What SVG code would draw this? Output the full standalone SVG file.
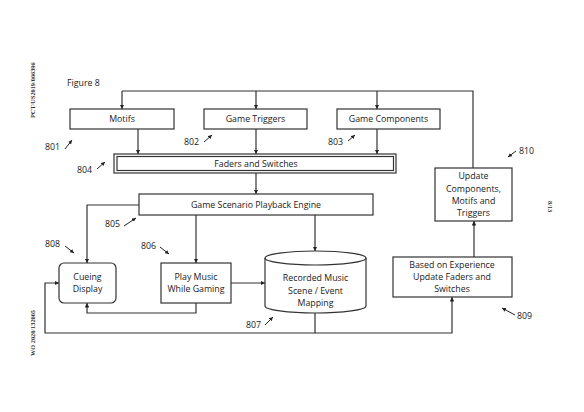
<svg xmlns="http://www.w3.org/2000/svg" width="584" height="412" viewBox="0 0 584 412">
<defs>
<marker id="ah" viewBox="0 0 10 10" refX="10" refY="5" markerWidth="4.5" markerHeight="4.5" markerUnits="userSpaceOnUse" orient="auto">
<path d="M0,0 L10,5 L0,10 z" fill="#222"/>
</marker>
<marker id="lh" viewBox="0 0 10 10" refX="10" refY="5" markerWidth="4" markerHeight="4" markerUnits="userSpaceOnUse" orient="auto">
<path d="M0,0 L10,5 L0,10 z" fill="#222"/>
</marker>
<style>
text{font-family:"Open Sans","Noto Sans","Liberation Sans",sans-serif;font-size:8.8px;fill:#1a1a1a}
.c{text-anchor:middle}
.box{fill:#fff;stroke:#333;stroke-width:1.2}
.con{fill:none;stroke:#333;stroke-width:1.2;marker-end:url(#ah)}
.ln{fill:none;stroke:#333;stroke-width:1.2}
.lab{fill:none;stroke:#222;stroke-width:1;marker-end:url(#lh)}
.mar{font-family:"Liberation Serif","DejaVu Serif",serif;font-size:6.3px;font-weight:bold;fill:#333}
</style>
</defs>
<rect width="584" height="412" fill="#fff"/>
<text class="mar" transform="translate(35,118) rotate(-90)">PCT/US2019/066396</text>
<text class="mar" transform="translate(35,356) rotate(-90)">WO 2020/132005</text>
<text class="mar" transform="translate(548,201) rotate(90)">8/13</text>
<text x="67" y="86">Figure 8</text>

<g id="connectors">
<path class="ln" d="M473,168 V91 H122"/>
<path class="con" d="M122,91 V109"/>
<path class="con" d="M256,91 V109"/>
<path class="con" d="M377,91 V109"/>
<path class="con" d="M138,129 V154"/>
<path class="con" d="M256,129 V154"/>
<path class="con" d="M377,129 V154"/>
<path class="con" d="M256,173 V194"/>
<path class="con" d="M139,205 H87 V263"/>
<path class="con" d="M196,215 V263"/>
<path class="con" d="M315,215 V251"/>
<path class="con" d="M231,283 H265"/>
<path class="con" d="M196,303 V313 H87 V303"/>
<path class="con" d="M315,313 V333 H45 V283 H59"/>
<path class="con" d="M315,333 H452 V297"/>
<path class="con" d="M474,257 V221"/>
</g>

<g id="labels">
<text x="45" y="150">801</text><path class="lab" d="M65,149 L72,140"/>
<text x="184" y="145">802</text><path class="lab" d="M204,142 L212,135"/>
<text x="328" y="145">803</text><path class="lab" d="M348,141 L355,135"/>
<text x="77" y="173">804</text><path class="lab" d="M97,169 L105,162"/>
<text x="105" y="227">805</text><path class="lab" d="M124,226 L136,218"/>
<text x="45" y="247">808</text><path class="lab" d="M65,246 L74,253"/>
<text x="141" y="249">806</text><path class="lab" d="M160,247 L169,254"/>
<text x="246" y="328">807</text><path class="lab" d="M265,325 L273,317"/>
<text x="517" y="319">809</text><path class="lab" d="M515,315 L502,308"/>
<text x="519" y="154">810</text><path class="lab" d="M516,151 L508,157"/>
</g>

<g id="motifs"><rect class="box" x="70" y="109" width="104" height="20"/><text class="c" x="122" y="122.3">Motifs</text></g>
<g id="game-triggers"><rect class="box" x="204" y="109" width="103" height="20"/><text class="c" x="255.5" y="122.3">Game Triggers</text></g>
<g id="game-components"><rect class="box" x="337" y="109" width="103" height="20"/><text class="c" x="388.5" y="122.3">Game Components</text></g>
<g id="faders"><rect class="box" x="114" y="154" width="282" height="19"/><rect class="box" x="117" y="156.5" width="276.5" height="14" stroke-width="1"/><text class="c" x="256" y="166.5">Faders and Switches</text></g>
<g id="engine"><rect class="box" x="139" y="194" width="234" height="21"/><text class="c" x="256" y="208">Game Scenario Playback Engine</text></g>
<g id="cueing"><rect class="box" x="59" y="263" width="57" height="40" rx="5"/><text class="c" x="87.5" y="280">Cueing</text><text class="c" x="87.5" y="292">Display</text></g>
<g id="play-music"><rect class="box" x="161" y="263" width="70" height="40"/><text class="c" x="196" y="280">Play Music</text><text class="c" x="196" y="292">While Gaming</text></g>
<g id="recorded"><path class="box" d="M265,258 V306 A50.5,7 0 0 0 366,306 V258"/><ellipse class="box" cx="315.5" cy="258" rx="50.5" ry="7"/><text class="c" x="315.5" y="281">Recorded Music</text><text class="c" x="315.5" y="294">Scene / Event</text><text class="c" x="315.5" y="306">Mapping</text></g>
<g id="based"><rect class="box" x="393" y="257" width="119" height="40"/><text class="c" x="452" y="268">Based on Experience</text><text class="c" x="452" y="280">Update Faders and</text><text class="c" x="452" y="292">Switches</text></g>
<g id="update"><rect class="box" x="435" y="168" width="77" height="53"/><text class="c" x="473.5" y="179">Update</text><text class="c" x="473.5" y="192">Components,</text><text class="c" x="473.5" y="204">Motifs and</text><text class="c" x="473.5" y="216">Triggers</text></g>
</svg>
